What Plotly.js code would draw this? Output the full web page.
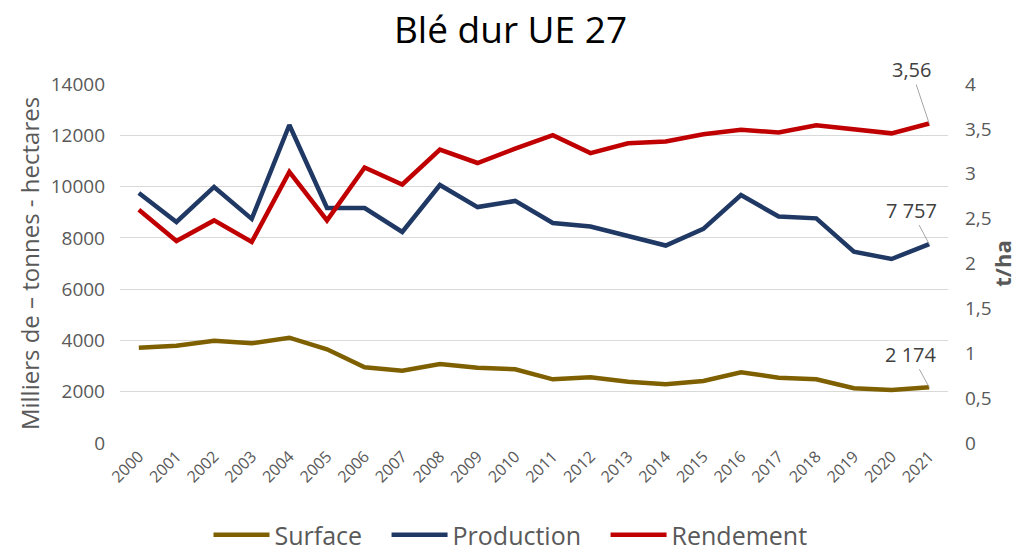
<!DOCTYPE html>
<html><head><meta charset="utf-8">
<script src="https://cdn.plot.ly/plotly-3.0.1.min.js"></script>
<style>html,body{margin:0;padding:0;background:#fff;overflow:hidden}#chart{width:1021px;height:558px}</style>
</head><body><div id="chart"></div>
<script>
const years = ["2000","2001","2002","2003","2004","2005","2006","2007","2008","2009","2010","2011","2012","2013","2014","2015","2016","2017","2018","2019","2020","2021"];
const surface = [3717,3795,3990,3888,4107,3654,2952,2820,3081,2937,2873,2483,2561,2391,2288,2418,2757,2548,2483,2133,2067,2174];
const production = [9750,8620,9985,8740,12400,9165,9165,8230,10060,9200,9440,8580,8440,8050,7700,8350,9670,8830,8760,7460,7175,7757];
const rendement = [2.60,2.25,2.48,2.24,3.02,2.48,3.07,2.88,3.27,3.12,3.28,3.43,3.23,3.34,3.36,3.44,3.49,3.46,3.54,3.50,3.45,3.56];
const seriesNames = ["Surface", "Production", "Rendement"];

const FONT = "Open Sans, Noto Sans, sans-serif";
const fmtInt = v => String(Math.round(v)).replace(/\B(?=(\d{3})+(?!\d))/g, " ");
const fmtDec = v => v.toFixed(2).replace(".", ",");
const li = years.length - 1;
const pad = "\u00a0\u00a0\u00a0";
const H = 558;

const traces = [
  {x: years, y: surface, name: seriesNames[0] + pad, type: "scatter", mode: "lines", line: {color: "#7f6000", width: 4.5}, yaxis: "y"},
  {x: years, y: production, name: seriesNames[1] + pad, type: "scatter", mode: "lines", line: {color: "#1f3864", width: 4.5}, yaxis: "y"},
  {x: years, y: rendement, name: seriesNames[2], type: "scatter", mode: "lines", line: {color: "#c00000", width: 4.5}, yaxis: "y2"}
];

const annBase = {showarrow: true, arrowhead: 0, arrowwidth: 1, arrowcolor: "#a6a6a6", font: {family: FONT, size: 20, color: "#404040"}, ax: -18, xref: "x"};
const annotations = [
  Object.assign({}, annBase, {x: li, y: rendement[li], yref: "y2", text: fmtDec(rendement[li]), ay: -54}),
  Object.assign({}, annBase, {x: li, y: production[li], yref: "y", text: fmtInt(production[li]), ay: -34}),
  Object.assign({}, annBase, {x: li, y: surface[li], yref: "y", text: fmtInt(surface[li]), ay: -33})
];

const layout = {
  width: 1021, height: H,
  margin: {l: 120, r: 73, t: 84, b: H - 443},
  paper_bgcolor: "#fff", plot_bgcolor: "#fff",
  separators: ", ",
  showlegend: true,
  title: {text: "Blé dur UE 27", font: {family: FONT, size: 37, color: "#000"}, x: 0.5, xanchor: "center", y: 1 - 30 / H, yanchor: "middle"},
  xaxis: {type: "category", range: [-0.5, 21.5], tickangle: -45, tickfont: {family: FONT, size: 16, color: "#595959"}, showgrid: false, showline: false, zeroline: false, ticks: "", automargin: false},
  yaxis: {range: [0, 14000], dtick: 2000, tickformat: "d", tickfont: {family: FONT, size: 19, color: "#595959"},
          gridcolor: "#d9d9d9", gridwidth: 1, zeroline: false, showline: false, ticks: "", automargin: false, ticklabelstandoff: 14,
          title: {text: "Milliers de – tonnes - hectares", font: {family: FONT, size: 24, color: "#595959"}, standoff: 4}},
  yaxis2: {overlaying: "y", side: "right", range: [0, 4], dtick: 0.5, showgrid: false, zeroline: false, showline: false,
           tickfont: {family: FONT, size: 19, color: "#595959"}, ticks: "", automargin: false, ticklabelstandoff: 16,
           title: {text: "<b>t/ha</b>", font: {family: FONT, size: 22, color: "#595959"}, standoff: 4}},
  legend: {orientation: "h", xref: "container", x: 0.5, xanchor: "center", yref: "container", y: 0, yanchor: "bottom", itemwidth: 56, font: {family: FONT, size: 25, color: "#595959"}, tracegroupgap: 0},
  annotations: annotations,
  hovermode: false
};

Plotly.newPlot("chart", traces, layout, {displayModeBar: false, staticPlot: true});
</script></body></html>
